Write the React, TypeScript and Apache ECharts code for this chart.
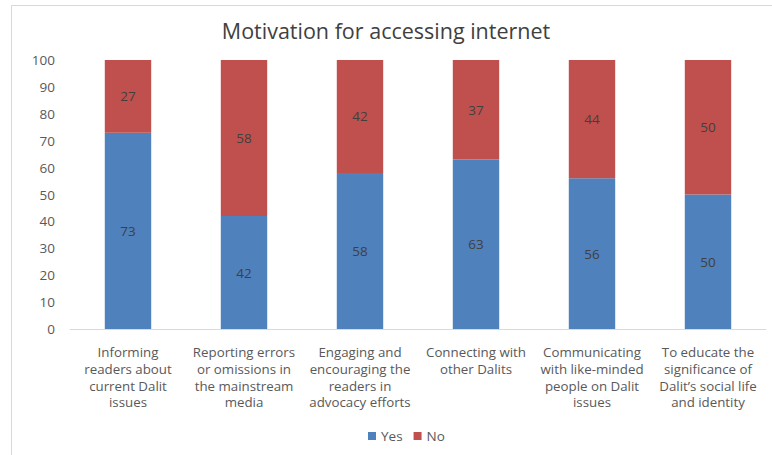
import React, { useEffect, useRef } from "react";
import * as echarts from "echarts";

const categories = [
  "Informing\nreaders about\ncurrent Dalit\nissues",
  "Reporting errors\nor omissions in\nthe mainstream\nmedia",
  "Engaging and\nencouraging the\nreaders in\nadvocacy efforts",
  "Connecting with\nother Dalits",
  "Communicating\nwith like-minded\npeople on Dalit\nissues",
  "To educate the\nsignificance of\nDalit\u2019s social life\nand identity",
];
const yesValues = [73, 42, 58, 63, 56, 50];
const noValues = [27, 58, 42, 37, 44, 50];
const seriesNames = ["Yes", "No"];

const FONT = "'Open Sans', Lato, sans-serif";
const FS = 13.5;

export default function App() {
  const ref = useRef<HTMLDivElement>(null);
  useEffect(() => {
    if (!ref.current) return;
    const chart = echarts.init(ref.current, null, { renderer: "svg" });
    chart.setOption({
      animation: false,
      backgroundColor: "#ffffff",
      textStyle: { fontFamily: FONT },
      title: {
        text: "Motivation for accessing internet",
        left: "center",
        top: 14,
        textStyle: { fontFamily: FONT, fontSize: 21.5, fontWeight: "normal", color: "#404040" },
      },
      graphic: [
        {
          type: "rect",
          shape: { x: 11.5, y: 5.5, width: 900, height: 600 },
          style: { fill: "none", stroke: "#d9d9d9", lineWidth: 1 },
          silent: true,
        },
      ],
      legend: {
        data: seriesNames,
        bottom: 7,
        left: 363,
        itemWidth: 8,
        itemHeight: 8,
        itemGap: 11,
        icon: "rect",
        textStyle: { fontFamily: FONT, fontSize: FS, color: "#595959", padding: [0, 0, 0, 0] },
      },
      grid: { left: 70, right: 6, top: 60, bottom: 126, containLabel: false },
      xAxis: {
        type: "category",
        data: categories,
        axisLine: { lineStyle: { color: "#d9d9d9" } },
        axisTick: { show: false },
        axisLabel: {
          interval: 0,
          fontFamily: FONT,
          fontSize: 13.3,
          lineHeight: 16.6,
          color: "#595959",
          margin: 15,
        },
      },
      yAxis: {
        type: "value",
        min: 0,
        max: 100,
        interval: 10,
        splitLine: { show: false },
        axisLine: { show: false },
        axisTick: { show: false },
        axisLabel: { fontFamily: FONT, fontSize: FS, color: "#595959", margin: 15 },
      },
      series: [
        {
          name: seriesNames[0],
          type: "bar",
          stack: "total",
          data: yesValues,
          barWidth: "40%",
          itemStyle: { color: "#4F81BD" },
          label: { show: true, position: "inside", color: "#404040", fontSize: FS, fontFamily: FONT },
        },
        {
          name: seriesNames[1],
          type: "bar",
          stack: "total",
          data: noValues,
          barWidth: "40%",
          itemStyle: { color: "#C0504D" },
          label: { show: true, position: "inside", color: "#404040", fontSize: FS, fontFamily: FONT },
        },
      ],
    });
    return () => chart.dispose();
  }, []);
  return (
    <div
      ref={ref}
      style={{ position: "fixed", left: 0, top: 0, width: 772, height: 455 }}
    />
  );
}
